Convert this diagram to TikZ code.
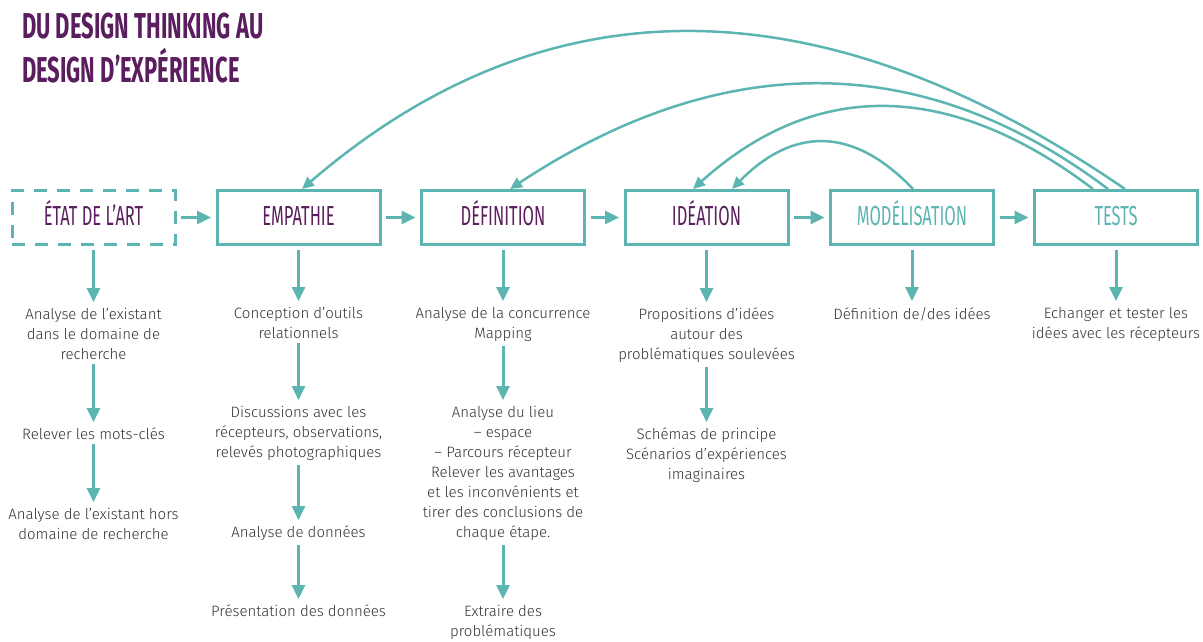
\documentclass[tikz,border=0pt]{standalone}
\usepackage{fontspec}
\setmainfont{Fira Sans}[UprightFont=* Light]
\newfontfamily\titlefont[FakeStretch=0.61]{Fira Sans}
\newfontfamily\headfont[FakeStretch=0.6]{Fira Sans}
\usetikzlibrary{arrows.meta}
\definecolor{plum}{HTML}{5A1E5E}
\definecolor{tealc}{HTML}{5CB5B1}
\definecolor{ink}{HTML}{333333}
\begin{document}
\begin{tikzpicture}[x=1pt, y=-1pt,
  stage/.style={draw=tealc, line width=3pt, minimum width=163pt, minimum height=54pt,
    inner sep=0pt, text height=19pt, text depth=4pt, text=plum,
    font=\headfont\fontsize{27.5}{27.5}\selectfont},
  draft/.style={stage, dash pattern=on 13pt off 10pt},
  note/.style={anchor=north, align=center, inner sep=0pt, text=ink,
    font=\fontsize{15}{20}\selectfont,
    execute at begin node={\lineskiplimit=-50pt\relax}},
  flow/.style={draw=tealc, line width=3pt, -{Triangle[length=14pt,width=13pt]}},
  down/.style={flow, shorten <=4pt, shorten >=6pt},
  side/.style={flow, shorten <=4.5pt, shorten >=4.5pt},
  back/.style={draw=tealc, line width=2.5pt, -{Triangle[length=12pt,width=11pt]}}]
\useasboundingbox (0,0) rectangle (1203,641);

% title
\node[anchor=north west, align=left, inner sep=0pt, text=plum,
  font=\titlefont\bfseries\fontsize{36}{44}\selectfont,
  execute at begin node={\lineskiplimit=-50pt\relax}] (title) at (22,13.2)
  {DU DESIGN THINKING AU\\DESIGN D’EXPÉRIENCE};

% stages
\node[draft] (etat) at (93.5,217.5) {ÉTAT DE L’ART};
\node[stage] (empathie) at (298.5,217.5) {EMPATHIE};
\node[stage] (definition) at (503,217.5) {DÉFINITION};
\node[stage] (ideation) at (706.5,217.5) {IDÉATION};
\node[stage, text=tealc] (modelisation) at (912,217.5) {MODÉLISATION};
\node[stage, text=tealc] (tests) at (1116,217.5) {TESTS};

\draw[side] (etat) -- (empathie);
\draw[side] (empathie) -- (definition);
\draw[side] (definition) -- (ideation);
\draw[side] (ideation) -- (modelisation);
\draw[side] (modelisation) -- (tests);

% column texts
\node[note] (a1) at (93.5,308) {Analyse de l’existant\\dans le domaine de\\recherche};
\node[note] (a2) at (93.5,428) {Relever les mots-clés};
\node[note] (a3) at (93.5,508) {Analyse de l’existant hors\\domaine de recherche};

\node[note] (b1) at (298.5,307) {Conception d’outils\\relationnels};
\node[note] (b2) at (298.5,406) {Discussions avec les\\récepteurs, observations,\\relevés photographiques};
\node[note] (b3) at (298.5,526) {Analyse de données};
\node[note] (b4) at (298.5,605) {Présentation des données};

\node[note] (c1) at (503,307) {Analyse de la concurrence\\Mapping};
\node[note] (c2) at (503,406) {Analyse du lieu\\– espace\\– Parcours récepteur\\Relever les avantages\\et les inconvénients et\\tirer des conclusions de\\chaque étape.};
\node[note] (c3) at (503,605) {Extraire des\\problématiques};

\node[note] (d1) at (706.5,308) {Propositions d’idées\\autour des\\problématiques soulevées};
\node[note] (d2) at (706.5,428) {Schémas de principe\\Scénarios d’expériences\\imaginaires};

\node[note] (e1) at (912,307) {Définition de/des idées};

\node[note] (f1) at (1116,307) {Echanger et tester les\\idées avec les récepteurs};

% downward arrows
\draw[down] (etat) -- (a1);
\draw[down] (a1) -- (a2);
\draw[down] (a2) -- (a3);
\draw[down] (empathie) -- (b1);
\draw[down] (b1) -- (b2);
\draw[down] (b2) -- (b3);
\draw[down] (b3) -- (b4);
\draw[down] (definition) -- (c1);
\draw[down] (c1) -- (c2);
\draw[down] (c2) -- (c3);
\draw[down] (ideation) -- (d1);
\draw[down] (d1) -- (d2);
\draw[down] (modelisation) -- (e1);
\draw[down] (tests) -- (f1);

% feedback loops
\draw[back] ([xshift=9pt]tests.north) .. controls +(-306,-210) and +(243,-209) .. ([xshift=3.5pt]empathie.north);
\draw[back] ([xshift=-8pt]tests.north) .. controls +(-187,-141) and +(211,-139) .. ([xshift=7pt]definition.north);
\draw[back] ([xshift=-23pt]tests.north) .. controls +(-145,-110) and +(121,-109) .. ([xshift=-13.5pt]ideation.north);
\draw[back] ([xshift=1pt]modelisation.north) .. controls +(-60,-63) and +(61,-62) .. ([xshift=25.5pt]ideation.north);
\end{tikzpicture}
\end{document}
